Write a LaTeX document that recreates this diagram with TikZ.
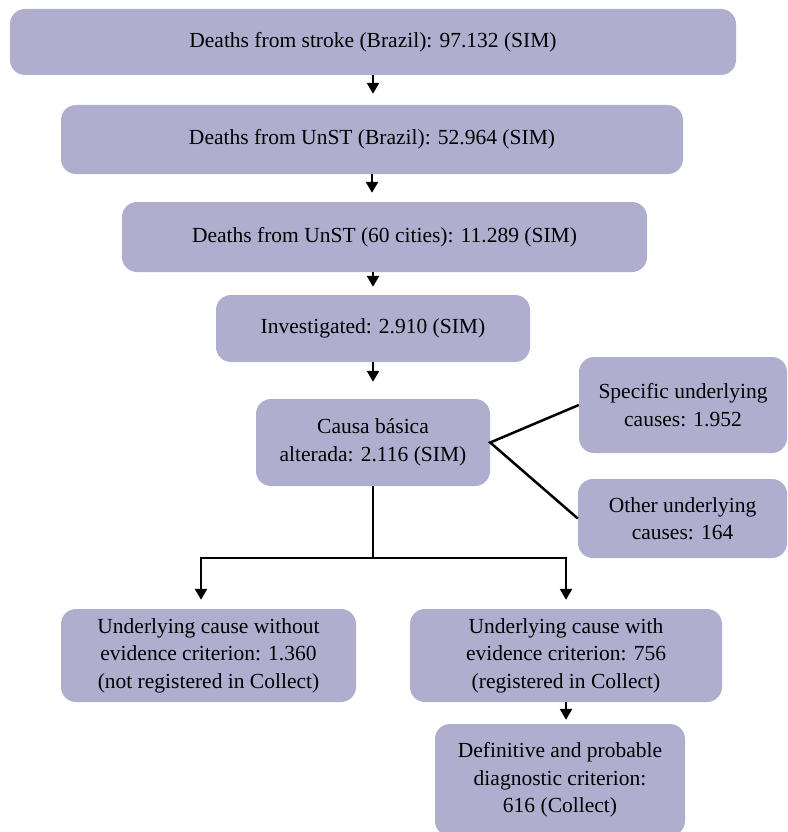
\documentclass[tikz,border=0pt]{standalone}
\usepackage{fontspec}
\setmainfont{Liberation Serif}
\usetikzlibrary{arrows.meta,calc}
\definecolor{boxfill}{RGB}{175,174,207}

\begin{document}
\begin{tikzpicture}[x=1pt, y=-1pt,
    every node/.style={font=\fontsize{21.5}{27.5}\selectfont},
    fbox/.style={fill=boxfill, rounded corners=15pt, align=center,
                 inner sep=0pt},
    arr/.style={-{Triangle[width=12pt,length=11pt]}, line width=2.5pt,
                shorten >=9pt},
    link/.style={line width=2.5pt},
]
\useasboundingbox (0,0) rectangle (787,832);

% ── flow boxes ──────────────────────────────────────────────
\node[fbox, minimum width=726pt, minimum height=66pt] (stroke) at (373,42)
    {Deaths from stroke (Brazil): 97.132 (SIM)};
\node[fbox, minimum width=622pt, minimum height=69pt] (unstbr) at (372,139.5)
    {Deaths from UnST (Brazil): 52.964 (SIM)};
\node[fbox, minimum width=525pt, minimum height=70pt] (unstcity) at (384.5,237)
    {Deaths from UnST (60 cities): 11.289 (SIM)};
\node[fbox, minimum width=314pt, minimum height=67pt] (invest) at (373,328.5)
    {Investigated: 2.910 (SIM)};
\node[fbox, minimum width=234pt, minimum height=87pt] (causa) at (373,442.5)
    {Causa básica\\alterada: 2.116 (SIM)};

% ── side boxes ──────────────────────────────────────────────
\node[fbox, minimum width=208pt, minimum height=96pt] (specific) at (683,405)
    {Specific underlying\\causes: 1.952};
\node[fbox, minimum width=209pt, minimum height=79pt] (other) at (682.5,518.5)
    {Other underlying\\causes: 164};

% ── bottom boxes ────────────────────────────────────────────
\node[fbox, minimum width=295pt, minimum height=93pt] (nocrit) at (208.5,655.5)
    {Underlying cause without\\evidence criterion: 1.360\\(not registered in Collect)};
\node[fbox, minimum width=312pt, minimum height=93pt] (crit) at (566,655.5)
    {Underlying cause with\\evidence criterion: 756\\(registered in Collect)};
\node[fbox, minimum width=250pt, minimum height=112pt] (defin) at (560,780)
    {Definitive and probable\\diagnostic criterion:\\616 (Collect)};

% ── connectors ──────────────────────────────────────────────
\draw[arr, shorten >=11pt] (stroke.south) -- (stroke.south |- unstbr.north);
\draw[arr] (unstbr.south) -- (unstbr.south |- unstcity.north);
\draw[arr, shorten >=8pt] (unstcity.south -| invest.north) -- (invest.north);
\draw[arr, shorten >=17pt] (invest.south) -- (causa.north);

\draw[link] (specific.west) -- (causa.east) -- (other.west);

\coordinate (split) at ($(causa.south)+(0,72)$);
\draw[link] (causa.south) -- (split);
\draw[arr] (split) -| ($(nocrit.north)+(-7.5,0)$);
\draw[arr] (split) -| (crit.north);

\draw[arr, shorten >=4pt] (crit.south) -- (crit.south |- defin.north);
\end{tikzpicture}
\end{document}
